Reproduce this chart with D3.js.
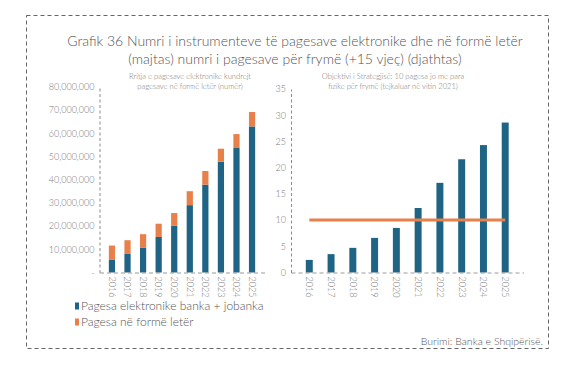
<!DOCTYPE html>
<html>
<head>
<meta charset="utf-8">
<script src="https://cdn.jsdelivr.net/npm/d3@7"></script>
<style>
  html, body { margin: 0; padding: 0; background: #fff; }
  svg { display: block; }
  text { font-family: Lato, "Open Sans", sans-serif; }
</style>
</head>
<body>
<svg id="chart" width="574" height="368"></svg>
<script>
// Data
const years = ["2016", "2017", "2018", "2019", "2020", "2021", "2022", "2023", "2024", "2025"];
const electronic = [5600000, 8000000, 10600000, 15300000, 20100000, 29000000, 37800000, 47700000, 53600000, 62900000];
const paper = [6000000, 5900000, 5900000, 5700000, 5500000, 6000000, 5900000, 5600000, 6000000, 6200000];
const perCapita = [2.4, 3.5, 4.7, 6.6, 8.5, 12.3, 17.1, 21.6, 24.3, 28.6];
const target = [10, 10, 10, 10, 10, 10, 10, 10, 10, 10];
const leftTicks = [0, 10000000, 20000000, 30000000, 40000000, 50000000, 60000000, 70000000, 80000000];
const rightTicks = [0, 5, 10, 15, 20, 25, 30, 35];

const titleLines = [
  "Grafik 36 Numri i instrumenteve të pagesave elektronike dhe në formë letër",
  "(majtas) numri i pagesave për frymë (+15 vjeç) (djathtas)"
];
const leftSub = ["Rritja e pagesave elektronike kundrejt", "pagesave në formë letër (numër)"];
const rightSub = ["Objektivi i Strategjisë: 10 pagesa jo me para", "fizike për frymë (tejkaluar në vitin 2021)"];
const legendNames = ["Pagesa elektronike banka + jobanka", "Pagesa në formë letër"];

const blue = "#1f6385";
const orange = "#e8804b";
const grey = "#777";

const svg = d3.select("#chart");

// dashed frame
svg.append("rect")
  .attr("x", 26.5).attr("y", 15.5)
  .attr("width", 522).attr("height", 333)
  .attr("fill", "none")
  .attr("stroke", "#666")
  .attr("stroke-width", 1)
  .attr("stroke-dasharray", "4,3");

// title
svg.append("g").selectAll("text")
  .data(titleLines)
  .enter().append("text")
  .attr("x", 295)
  .attr("y", (d, i) => 46 + i * 18)
  .attr("text-anchor", "middle")
  .attr("font-size", "14px")
  .attr("font-weight", 300)
  .attr("fill", "#555")
  .text(d => d);

function subtitle(lines, cx) {
  svg.append("g").selectAll("text")
    .data(lines)
    .enter().append("text")
    .attr("x", cx)
    .attr("y", (d, i) => 79 + i * 10)
    .attr("text-anchor", "middle")
    .attr("font-size", "7.6px")
    .attr("font-weight", 300)
    .attr("fill", "#777")
    .text(d => d);
}
subtitle(leftSub, 190);
subtitle(rightSub, 393);

const bottom = 272.5;

// ---------- left chart ----------
const xL = d3.scaleBand().domain(years).range([99.5, 264.5]).padding(0.6);
const yL = d3.scaleLinear().domain([0, 80000000]).range([bottom, 86.7]);

function styleAxis(g) {
  g.select(".domain")
    .attr("stroke", "#8a8a8a")
    .attr("stroke-dasharray", "3,2.5");
  g.selectAll("text")
    .attr("fill", grey)
    .attr("font-size", "9px")
    .attr("font-weight", 300)
    .style("font-family", "Lato, 'Open Sans', sans-serif");
}

const axL = svg.append("g")
  .attr("transform", "translate(99.5,0)")
  .call(d3.axisLeft(yL).tickValues(leftTicks).tickSize(0).tickPadding(5)
    .tickFormat(d => d === 0 ? "-" : d3.format(",")(d)));
styleAxis(axL);

const stacked = years.map((y, i) => ({ year: y, e: electronic[i], p: paper[i] }));

svg.append("g").selectAll("rect")
  .data(stacked)
  .enter().append("rect")
  .attr("x", d => xL(d.year))
  .attr("width", xL.bandwidth())
  .attr("y", d => yL(d.e))
  .attr("height", d => bottom - yL(d.e))
  .attr("fill", blue);

svg.append("g").selectAll("rect")
  .data(stacked)
  .enter().append("rect")
  .attr("x", d => xL(d.year))
  .attr("width", xL.bandwidth())
  .attr("y", d => yL(d.e + d.p))
  .attr("height", d => yL(d.e) - yL(d.e + d.p))
  .attr("fill", orange);

const axLB = svg.append("g")
  .attr("transform", `translate(0,${bottom})`)
  .call(d3.axisBottom(xL).tickSize(0));
styleAxis(axLB);
axLB.select(".domain").attr("stroke", "#9a9a9a").attr("stroke-dasharray", "4,3");
axLB.selectAll("text")
  .attr("transform", "rotate(90)")
  .attr("text-anchor", "start")
  .attr("x", 4).attr("y", 0).attr("dy", "0.35em");

// ---------- right chart ----------
const xR = d3.scaleBand().domain(years).range([291, 523.5]).padding(0.68);
const yR = d3.scaleLinear().domain([0, 35]).range([bottom, 89]);

const axR = svg.append("g")
  .attr("transform", "translate(291,0)")
  .call(d3.axisLeft(yR).tickValues(rightTicks).tickSize(0).tickPadding(5));
styleAxis(axR);

svg.append("g").selectAll("rect")
  .data(perCapita)
  .enter().append("rect")
  .attr("x", (d, i) => xR(years[i]))
  .attr("width", xR.bandwidth())
  .attr("y", d => yR(d))
  .attr("height", d => bottom - yR(d))
  .attr("fill", blue);

svg.append("path")
  .datum(target)
  .attr("fill", "none")
  .attr("stroke", orange)
  .attr("stroke-width", 3)
  .attr("d", d3.line()
    .x((d, i) => xR(years[i]) + xR.bandwidth() / 2)
    .y(d => yR(d)));

const axRB = svg.append("g")
  .attr("transform", `translate(0,${bottom})`)
  .call(d3.axisBottom(xR).tickSize(0));
styleAxis(axRB);
axRB.select(".domain").attr("stroke", "#9a9a9a").attr("stroke-dasharray", "4,3");
axRB.selectAll("text")
  .attr("transform", "rotate(90)")
  .attr("text-anchor", "start")
  .attr("x", 4).attr("y", 0).attr("dy", "0.35em");

// ---------- legend ----------
const legend = svg.append("g").selectAll("g")
  .data(legendNames)
  .enter().append("g")
  .attr("transform", (d, i) => `translate(75,${306 + i * 16})`);

legend.append("rect")
  .attr("x", 0).attr("y", -3.5)
  .attr("width", 4).attr("height", 7)
  .attr("fill", (d, i) => i === 0 ? blue : orange);

legend.append("text")
  .attr("x", 6).attr("y", 0).attr("dy", "0.35em")
  .attr("font-size", "12px")
  .attr("font-weight", 300)
  .attr("fill", "#555")
  .text(d => d);

// source note
svg.append("text")
  .attr("x", 543).attr("y", 341)
  .attr("dy", "0.35em")
  .attr("text-anchor", "end")
  .attr("font-size", "10.5px")
  .attr("font-weight", 300)
  .attr("fill", "#555")
  .text("Burimi: Banka e Shqipërisë.");
</script>
</body>
</html>
